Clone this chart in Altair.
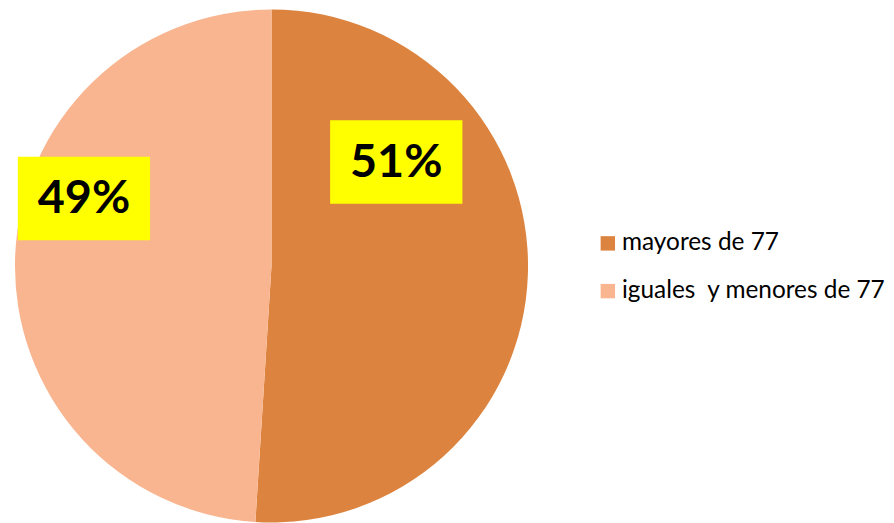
import altair as alt
import pandas as pd

categories = ["mayores de 77", "iguales\u00a0 y menores de 77"]
percent = [51, 49]
labels = ["51%", "49%"]
colors = ["#DC843F", "#F8B58F"]
# manual label placement (angle in degrees clockwise from 12 o'clock, distance as fraction of radius)
label_angle = [50.2, 289.8]
label_dist = [0.633, 0.777]

W, H, R = 530, 512, 258

df = pd.DataFrame({
    "cat": categories,
    "pct": percent,
    "label": labels,
    "idx": [0, 1],
    "ang": label_angle,
    "dist": label_dist,
})

color = alt.Color("cat:N", scale=alt.Scale(domain=categories, range=colors),
                  sort=categories,
                  legend=alt.Legend(title=None, orient="none", legendX=591, legendY=221,
                                    symbolType="square", symbolSize=210, symbolStrokeWidth=0,
                                    labelFont="Lato", labelFontSize=24.5, labelColor="#000000",
                                    labelOffset=2, rowPadding=23, padding=0, labelLimit=400))

pie = alt.Chart(df).mark_arc(outerRadius=R, stroke=None).encode(
    theta=alt.Theta("pct:Q", stack=True),
    color=color,
    order=alt.Order("idx:Q"),
)

pos = alt.Chart(df).transform_calculate(
    cx=f"{W/2} + {R}*datum.dist*sin(datum.ang*PI/180)",
    cy=f"{H/2} - {R}*datum.dist*cos(datum.ang*PI/180)",
)

box = pos.mark_point(
    shape="M-1,-0.632L1,-0.632L1,0.632L-1,0.632Z", size=133 * 133,
    filled=True, fill="#FFFF00", opacity=1, strokeWidth=0,
).encode(
    x=alt.X("cx:Q", scale=None, axis=None),
    y=alt.Y("cy:Q", scale=None, axis=None),
)

txt = pos.mark_text(font="Lato", fontWeight="bold", fontSize=47, color="#000000",
                    baseline="middle", align="center", dy=1).encode(
    x=alt.X("cx:Q", scale=None, axis=None),
    y=alt.Y("cy:Q", scale=None, axis=None),
    text="label:N",
)

chart = alt.layer(pie, box, txt).properties(
    width=W, height=H, padding=0, background="white"
).configure_view(stroke=None)

chart.save("out.html", embed_options={"renderer": "svg", "actions": False})
